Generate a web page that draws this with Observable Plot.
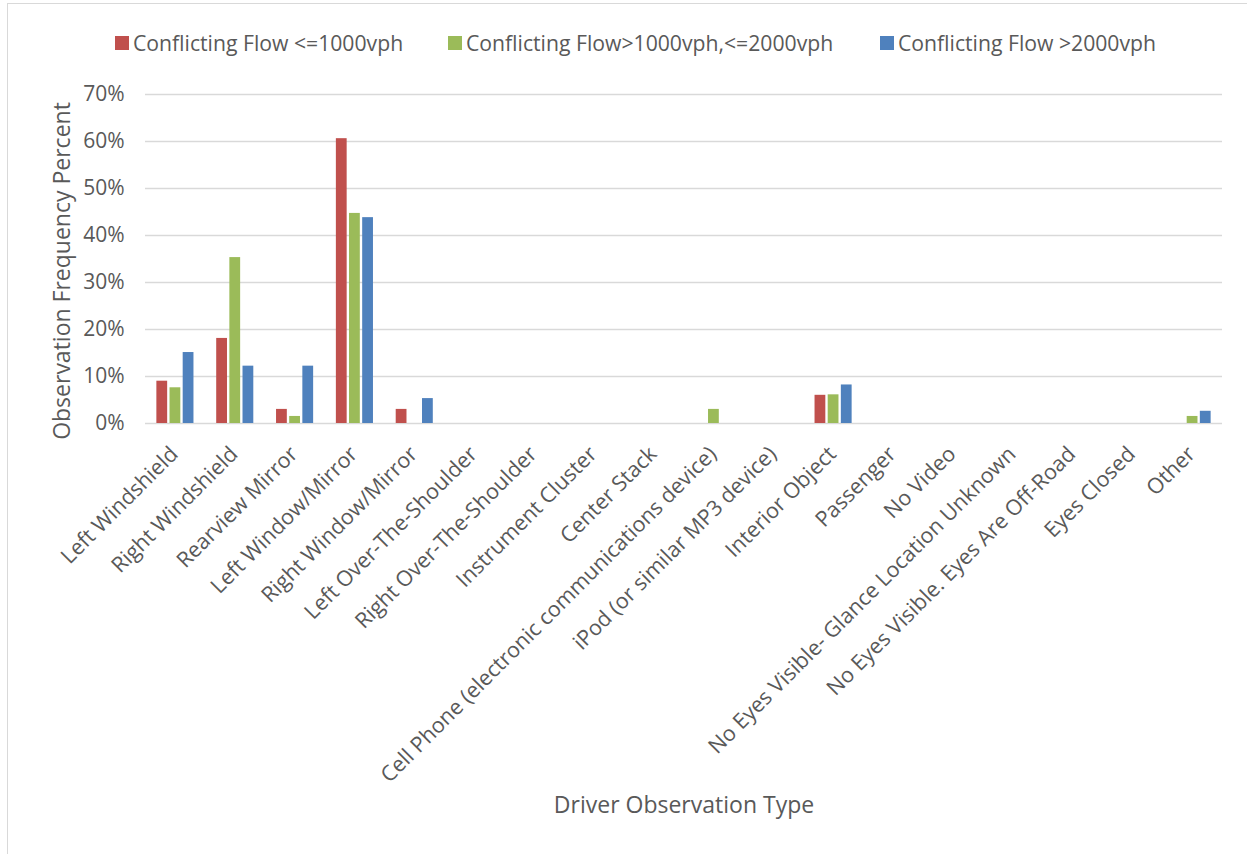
<!DOCTYPE html>
<html>
<head>
<meta charset="utf-8">
<script src="https://cdn.jsdelivr.net/npm/d3@7"></script>
<script src="https://cdn.jsdelivr.net/npm/@observablehq/plot@0.6"></script>
<style>
  html, body { margin: 0; padding: 0; background: #fff; }
  #wrap { position: relative; width: 1247px; height: 854px; overflow: hidden; font-family: "Open Sans", sans-serif; color: #595959; }
  #border { position: absolute; left: 7px; top: 3px; width: 1300px; height: 900px; border-left: 1.5px solid #D9D9D9; border-top: 1.5px solid #D9D9D9; }
  .leg { position: absolute; top: 28px; display: flex; align-items: center; font-size: 21.2px; white-space: nowrap; }
  .sw { width: 14px; height: 14px; margin-right: 4px; }
  .layer { position: absolute; left: 0; top: 80px; }
</style>
</head>
<body>
<div id="wrap">
  <div id="border"></div>
  <div id="legend"></div>
  <div id="grid" class="layer"></div>
  <div id="chart" class="layer"></div>
</div>
<script>
const categories = [
  "Left Windshield", "Right Windshield", "Rearview Mirror", "Left Window/Mirror",
  "Right Window/Mirror", "Left Over-The-Shoulder", "Right Over-The-Shoulder",
  "Instrument Cluster", "Center Stack", "Cell Phone (electronic communications device)",
  "iPod (or similar MP3 device)", "Interior Object", "Passenger", "No Video",
  "No Eyes Visible- Glance Location Unknown", "No Eyes Visible. Eyes Are Off-Road",
  "Eyes Closed", "Other"
];
const seriesNames = ["Conflicting Flow <=1000vph", "Conflicting Flow>1000vph,<=2000vph", "Conflicting Flow >2000vph"];
const seriesColors = ["#C0504D", "#9BBB59", "#4F81BD"];
const flowLow  = [9.0, 18.1, 3.0, 60.6, 3.0, 0, 0, 0, 0, 0,   0, 6.0, 0, 0, 0, 0, 0, 0];
const flowMid  = [7.6, 35.3, 1.5, 44.7, 0,   0, 0, 0, 0, 3.0, 0, 6.1, 0, 0, 0, 0, 0, 1.5];
const flowHigh = [15.1, 12.2, 12.2, 43.8, 5.3, 0, 0, 0, 0, 0, 0, 8.2, 0, 0, 0, 0, 0, 2.6];
const yTicks = [0, 10, 20, 30, 40, 50, 60, 70];
const yTitle = "Observation Frequency Percent";
const xTitle = "Driver Observation Type";

const seriesValues = [flowLow, flowMid, flowHigh];
const data = [];
categories.forEach((c, i) => {
  seriesNames.forEach((s, j) => {
    const v = seriesValues[j][i];
    if (v > 0) data.push({category: c, series: s, value: v});
  });
});

// legend
const legend = document.getElementById("legend");
const legLeft = [115, 448, 880];
seriesNames.forEach((s, j) => {
  const d = document.createElement("div");
  d.className = "leg";
  d.style.left = legLeft[j] + "px";
  d.innerHTML = `<div class="sw" style="background:${seriesColors[j]}"></div><span>${s.replace(/</g, "&lt;").replace(/>/g, "&gt;")}</span>`;
  legend.appendChild(d);
});

const frame = {width: 1247, height: 774, marginTop: 14, marginBottom: 431, marginLeft: 145, marginRight: 25};
const baseStyle = {fontFamily: "Open Sans", fontSize: "20px", color: "#595959", background: "transparent", overflow: "visible"};

// gridlines, y axis and titles (unfaceted layer underneath)
const grid = Plot.plot({
  ...frame,
  style: baseStyle,
  y: {domain: [0, 70]},
  marks: [
    Plot.ruleY(yTicks, {y: d => d, stroke: "#D9D9D9", strokeWidth: 1.5}),
    Plot.axisY({ticks: yTicks, tickFormat: d => d + "%", tickSize: 0, tickPadding: 21, label: null, fontSize: 21}),
    Plot.text([yTitle], {frameAnchor: "left", rotate: -90, textAnchor: "middle", dx: -83, dy: 12, fontSize: 23, fill: "#595959"}),
    Plot.text([xTitle], {frameAnchor: "bottom", dy: 389, fontSize: 23, fill: "#595959"})
  ]
});
document.getElementById("grid").appendChild(grid);

// grouped bars (faceted by category)
const chart = Plot.plot({
  ...frame,
  style: baseStyle,
  fx: {domain: categories, paddingInner: 0.38, paddingOuter: 0.19, round: false},
  x: {domain: seriesNames, paddingInner: 0.18, paddingOuter: 0, round: false},
  y: {domain: [0, 70]},
  color: {domain: seriesNames, range: seriesColors},
  marks: [
    Plot.barY(data, {fx: "category", x: "series", y: "value", fill: "series"}),
    Plot.axisY({ticks: [], label: null}),
    Plot.axisX({ticks: [], label: null}),
    Plot.axisFx({anchor: "bottom", tickRotate: -45, tickSize: 0, tickPadding: 27, dx: -1, fontSize: 21.5, label: null})
  ]
});
document.getElementById("chart").appendChild(chart);
</script>
</body>
</html>
